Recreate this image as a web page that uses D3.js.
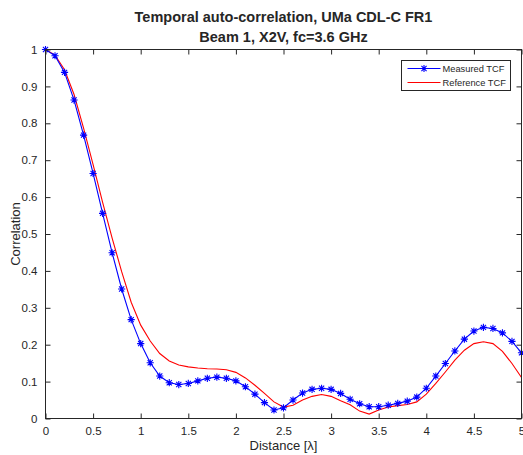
<!DOCTYPE html>
<html>
<head>
<meta charset="utf-8">
<script src="https://cdn.jsdelivr.net/npm/d3@7"></script>
<style>
  html, body { margin: 0; padding: 0; background: #fff; }
  svg { display: block; }
  text { font-family: Arial, "Liberation Sans", sans-serif; fill: #262626; }
</style>
</head>
<body>
<svg id="chart"></svg>
<script>
// distance samples (wavelengths), 0 .. 5 step 0.1
const distance = [
  0, 0.1, 0.2, 0.3, 0.4, 0.5, 0.6, 0.7, 0.8, 0.9,
  1, 1.1, 1.2, 1.3, 1.4, 1.5, 1.6, 1.7, 1.8, 1.9,
  2, 2.1, 2.2, 2.3, 2.4, 2.5, 2.6, 2.7, 2.8, 2.9,
  3, 3.1, 3.2, 3.3, 3.4, 3.5, 3.6, 3.7, 3.8, 3.9,
  4, 4.1, 4.2, 4.3, 4.4, 4.5, 4.6, 4.7, 4.8, 4.9, 5
];

const measuredTCF = [
  1.000, 0.983, 0.938, 0.863, 0.768, 0.664, 0.556, 0.449, 0.351, 0.268,
  0.203, 0.151, 0.115, 0.097, 0.092, 0.095, 0.102, 0.109, 0.112, 0.109,
  0.102, 0.086, 0.066, 0.043, 0.023, 0.029, 0.050, 0.069, 0.079, 0.082,
  0.079, 0.068, 0.052, 0.040, 0.032, 0.032, 0.036, 0.041, 0.047, 0.058,
  0.082, 0.115, 0.149, 0.183, 0.215, 0.237, 0.247, 0.244, 0.232, 0.209, 0.178
];

const referenceTCF = [
  1.000, 0.985, 0.945, 0.878, 0.787, 0.688, 0.586, 0.489, 0.398, 0.315,
  0.253, 0.210, 0.176, 0.156, 0.145, 0.140, 0.137, 0.135, 0.134, 0.132,
  0.125, 0.110, 0.090, 0.068, 0.045, 0.031, 0.036, 0.050, 0.060, 0.065,
  0.060, 0.048, 0.037, 0.020, 0.012, 0.023, 0.031, 0.035, 0.038, 0.045,
  0.066, 0.095, 0.126, 0.158, 0.185, 0.203, 0.208, 0.203, 0.182, 0.149, 0.111
];

const xTicks = [0, 0.5, 1, 1.5, 2, 2.5, 3, 3.5, 4, 4.5, 5];
const yTicks = [0, 0.1, 0.2, 0.3, 0.4, 0.5, 0.6, 0.7, 0.8, 0.9, 1];
const xTickLabels = ['0', '0.5', '1', '1.5', '2', '2.5', '3', '3.5', '4', '4.5', '5'];
const yTickLabels = ['0', '0.1', '0.2', '0.3', '0.4', '0.5', '0.6', '0.7', '0.8', '0.9', '1'];

const titleLines = ['Temporal auto-correlation, UMa CDL-C FR1', 'Beam 1, X2V, fc=3.6 GHz'];
const seriesNames = ['Measured TCF', 'Reference TCF'];

/* ── Dimensions ── */
const W = 523, H = 455;
const margin = { top: 49.5, right: 1.5, bottom: 36.5, left: 45.5 };
const iW = W - margin.left - margin.right;
const iH = H - margin.top - margin.bottom;
const AXIS = '#262626';
const BLUE = '#0000ff';
const RED = '#ff0000';

const svg = d3.select('#chart').attr('width', W).attr('height', H);

const x = d3.scaleLinear().domain([0, 5]).range([0, iW]);
const y = d3.scaleLinear().domain([0, 1]).range([iH, 0]);

const g = svg.append('g').attr('transform', `translate(${margin.left},${margin.top})`);

/* ── Lines ── */
const line = (vals) => d3.line()
  .x((d, i) => x(distance[i]))
  .y((d) => y(d))(vals);

g.append('path')
  .attr('d', line(referenceTCF))
  .attr('fill', 'none')
  .attr('stroke', RED)
  .attr('stroke-width', 1.1);

g.append('path')
  .attr('d', line(measuredTCF))
  .attr('fill', 'none')
  .attr('stroke', BLUE)
  .attr('stroke-width', 1.1);

// asterisk marker, like matlab '*'
const star = (r) => {
  const d = r * 0.72;
  return `M${-r},0L${r},0M0,${-r}L0,${r}M${-d},${-d}L${d},${d}M${-d},${d}L${d},${-d}`;
};

g.selectAll(null)
  .data(measuredTCF)
  .join('path')
  .attr('transform', (d, i) => `translate(${x(distance[i])},${y(d)})`)
  .attr('d', star(3.6))
  .attr('stroke', BLUE)
  .attr('stroke-width', 1.1)
  .attr('fill', 'none');

/* ── Axes box + ticks (inward, all four sides) ── */
const tickLen = 5;

g.append('rect')
  .attr('width', iW).attr('height', iH)
  .attr('fill', 'none').attr('stroke', AXIS).attr('stroke-width', 1);

g.append('g')
  .attr('transform', `translate(0,${iH})`)
  .call(d3.axisBottom(x).tickValues(xTicks).tickSize(-tickLen).tickPadding(8)
    .tickFormat((d, i) => xTickLabels[i]))
  .call((a) => a.select('.domain').remove())
  .call((a) => a.selectAll('line').attr('stroke', AXIS))
  .call((a) => a.selectAll('text').attr('font-size', 11.5).attr('fill', AXIS)
    .attr('font-family', 'Arial, "Liberation Sans", sans-serif'));

g.append('g')
  .call(d3.axisTop(x).tickValues(xTicks).tickSize(-tickLen).tickFormat(''))
  .call((a) => a.select('.domain').remove())
  .call((a) => a.selectAll('line').attr('stroke', AXIS));

g.append('g')
  .call(d3.axisLeft(y).tickValues(yTicks).tickSize(-tickLen).tickPadding(8)
    .tickFormat((d, i) => yTickLabels[i]))
  .call((a) => a.select('.domain').remove())
  .call((a) => a.selectAll('line').attr('stroke', AXIS))
  .call((a) => a.selectAll('text').attr('font-size', 11.5).attr('fill', AXIS)
    .attr('font-family', 'Arial, "Liberation Sans", sans-serif'));

g.append('g')
  .attr('transform', `translate(${iW},0)`)
  .call(d3.axisRight(y).tickValues(yTicks).tickSize(-tickLen).tickFormat(''))
  .call((a) => a.select('.domain').remove())
  .call((a) => a.selectAll('line').attr('stroke', AXIS));

/* ── Title + axis labels ── */
svg.append('text')
  .attr('x', margin.left + iW / 2).attr('y', 22)
  .attr('text-anchor', 'middle')
  .attr('font-size', 14.5).attr('font-weight', 'bold')
  .text(titleLines[0]);

svg.append('text')
  .attr('x', margin.left + iW / 2).attr('y', 42)
  .attr('text-anchor', 'middle')
  .attr('font-size', 14.5).attr('font-weight', 'bold')
  .text(titleLines[1]);

svg.append('text')
  .attr('x', margin.left + iW / 2).attr('y', 450)
  .attr('text-anchor', 'middle')
  .attr('font-size', 13)
  .text('Distance [λ]');

svg.append('text')
  .attr('transform', `translate(20,${margin.top + iH / 2}) rotate(-90)`)
  .attr('text-anchor', 'middle')
  .attr('font-size', 13)
  .text('Correlation');

/* ── Legend ── */
const leg = svg.append('g').attr('transform', 'translate(401.5,60.5)');
leg.append('rect')
  .attr('width', 109).attr('height', 30)
  .attr('fill', '#fff').attr('stroke', AXIS).attr('stroke-width', 1);

const legRows = [
  { name: seriesNames[0], color: BLUE, marker: true, yy: 8 },
  { name: seriesNames[1], color: RED, marker: false, yy: 22 }
];
legRows.forEach((r) => {
  leg.append('line')
    .attr('x1', 6).attr('x2', 39).attr('y1', r.yy).attr('y2', r.yy)
    .attr('stroke', r.color).attr('stroke-width', 1.1);
  if (r.marker) {
    leg.append('path')
      .attr('transform', `translate(22.5,${r.yy})`)
      .attr('d', star(3.6))
      .attr('stroke', r.color).attr('stroke-width', 1.1).attr('fill', 'none');
  }
  leg.append('text')
    .attr('x', 41).attr('y', r.yy + 3.3)
    .attr('font-size', 9.3)
    .text(r.name);
});
</script>
</body>
</html>
